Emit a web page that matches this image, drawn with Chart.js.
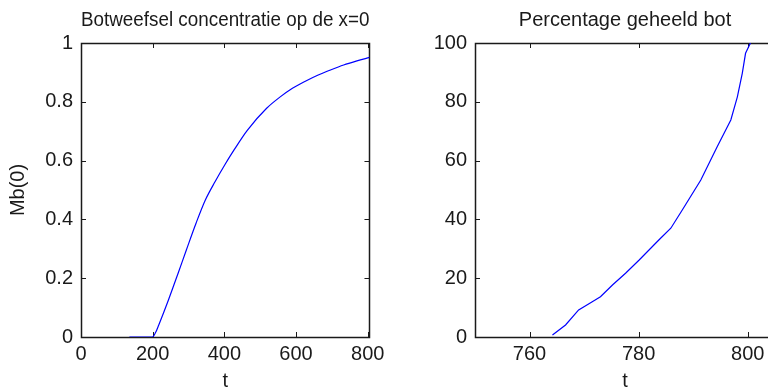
<!DOCTYPE html>
<html>
<head>
<meta charset="utf-8">
<script src="https://cdn.jsdelivr.net/npm/chart.js@4"></script>
<style>
  html, body { margin: 0; padding: 0; background: #fff; overflow: hidden; }
  #wrap { position: relative; width: 768px; height: 391px; overflow: hidden; background: #fff; }
  #left { position: absolute; left: 0; top: 0; }
  #right { position: absolute; left: 390px; top: 0; }
</style>
</head>
<body>
<div id="wrap">
  <canvas id="left" width="390" height="391"></canvas>
  <canvas id="right" width="400" height="391"></canvas>
</div>
<script>
// bone tissue concentration at x=0
const leftT  = [135, 170, 199, 208, 217, 244, 271, 294, 321, 347, 374, 401, 428, 464, 518, 554, 590, 626, 662, 698, 733, 770, 805];
const leftMb = [0, 0, 0, 0.015, 0.041, 0.126, 0.217, 0.296, 0.387, 0.466, 0.528, 0.585, 0.638, 0.703, 0.778, 0.815, 0.846, 0.87, 0.891, 0.909, 0.925, 0.939, 0.951];

// percentage of healed bone
const rightT   = [764.2, 766.6, 769.0, 771.5, 773.0, 775.2, 777.6, 780.1, 783.7, 785.9, 788.0, 791.4, 794.4, 796.9, 798.1, 799.0, 799.6, 800.5];
const rightPct = [0.7, 4.1, 9.2, 12.0, 13.7, 17.7, 21.7, 26.2, 33.0, 37.0, 43.2, 53.4, 64.7, 73.8, 81.7, 89.7, 96.5, 100];

const leftXTicks  = [0, 200, 400, 600, 800];
const leftYTicks  = [0, 0.2, 0.4, 0.6, 0.8, 1];
const leftYLabels = ['0', '0.2', '0.4', '0.6', '0.8', '1'];
const rightXTicks = [760, 780, 800];
const rightYTicks = [0, 20, 40, 60, 80, 100];

const FONT = { family: '"Liberation Sans", Arial, sans-serif', size: 20, weight: 'normal', lineHeight: 1.2 };
const INK = '#1a1a1a';

// box round the plot area plus short inward ticks on all four sides
const boxAxes = {
  id: 'boxAxes',
  beforeDatasetsDraw(chart) {
    const { ctx, chartArea: a, scales } = chart;
    ctx.save();
    ctx.strokeStyle = INK;
    ctx.lineWidth = 1;
    const len = 5;
    scales.x.ticks.forEach(t => {
      const px = Math.round(scales.x.getPixelForValue(t.value)) + 0.5;
      ctx.beginPath();
      ctx.moveTo(px, a.bottom); ctx.lineTo(px, a.bottom - len);
      ctx.moveTo(px, a.top); ctx.lineTo(px, a.top + len);
      ctx.stroke();
    });
    scales.y.ticks.forEach(t => {
      const py = Math.round(scales.y.getPixelForValue(t.value)) + 0.5;
      ctx.beginPath();
      ctx.moveTo(a.left, py); ctx.lineTo(a.left + len, py);
      ctx.moveTo(a.right, py); ctx.lineTo(a.right - len, py);
      ctx.stroke();
    });
    ctx.lineWidth = 1.5;
    ctx.strokeRect(Math.round(a.left) + 0.5, Math.round(a.top) + 0.5,
                   Math.round(a.right - a.left), Math.round(a.bottom - a.top));
    ctx.restore();
  }
};

function makeChart(id, cfg) {
  const pts = cfg.xs.map((x, i) => ({ x: x, y: cfg.ys[i] }));
  return new Chart(document.getElementById(id), {
    type: 'scatter',
    data: {
      datasets: [{
        data: pts,
        showLine: true,
        borderColor: '#0000ff',
        borderWidth: 1.2,
        pointRadius: 0,
        cubicInterpolationMode: cfg.smooth ? 'monotone' : 'default',
        tension: 0
      }]
    },
    options: {
      responsive: false,
      animation: false,
      events: [],
      layout: { padding: { left: 0, right: cfg.padRight, top: 0, bottom: 0 } },
      plugins: {
        legend: { display: false },
        tooltip: { enabled: false },
        title: {
          display: true,
          text: cfg.title,
          fullSize: false,
          color: INK,
          font: FONT,
          padding: { top: 8, bottom: 11 }
        }
      },
      scales: {
        x: {
          type: 'linear',
          min: cfg.xMin,
          max: cfg.xMax,
          grid: { display: false, drawTicks: false },
          border: { display: false },
          afterBuildTicks: s => { s.ticks = cfg.xTicks.map(v => ({ value: v })); },
          afterFit: s => { s.height = 54; },
          ticks: { color: INK, font: FONT, padding: 5.5, maxRotation: 0, autoSkip: false },
          title: { display: true, text: 't', color: INK, font: FONT, padding: { top: 0, bottom: -2 } }
        },
        y: {
          type: 'linear',
          min: cfg.yMin,
          max: cfg.yMax,
          grid: { display: false, drawTicks: false },
          border: { display: false },
          afterBuildTicks: s => { s.ticks = cfg.yTicks.map(v => ({ value: v })); },
          afterFit: s => { s.width = cfg.yWidth; },
          ticks: {
            color: INK, font: FONT, padding: 8, autoSkip: false,
            callback: (v, i) => cfg.yLabels[i]
          },
          title: {
            display: !!cfg.yTitle,
            text: cfg.yTitle || '',
            color: INK,
            font: FONT,
            padding: { top: 6, bottom: 0 }
          }
        }
      }
    },
    plugins: [boxAxes]
  });
}

makeChart('left', {
  title: 'Botweefsel concentratie op de x=0',
  xs: leftT, ys: leftMb, smooth: true,
  xMin: 0, xMax: 805, yMin: 0, yMax: 1,
  xTicks: leftXTicks, yTicks: leftYTicks, yLabels: leftYLabels,
  yTitle: 'Mb(0)', yWidth: 81, padRight: 10
});

makeChart('right', {
  title: 'Percentage geheeld bot',
  xs: rightT, ys: rightPct, smooth: false,
  xMin: 750, xMax: 805, yMin: 0, yMax: 100,
  xTicks: rightXTicks, yTicks: rightYTicks, yLabels: rightYTicks.map(String),
  yTitle: '', yWidth: 85, padRight: 15
});
</script>
</body>
</html>
